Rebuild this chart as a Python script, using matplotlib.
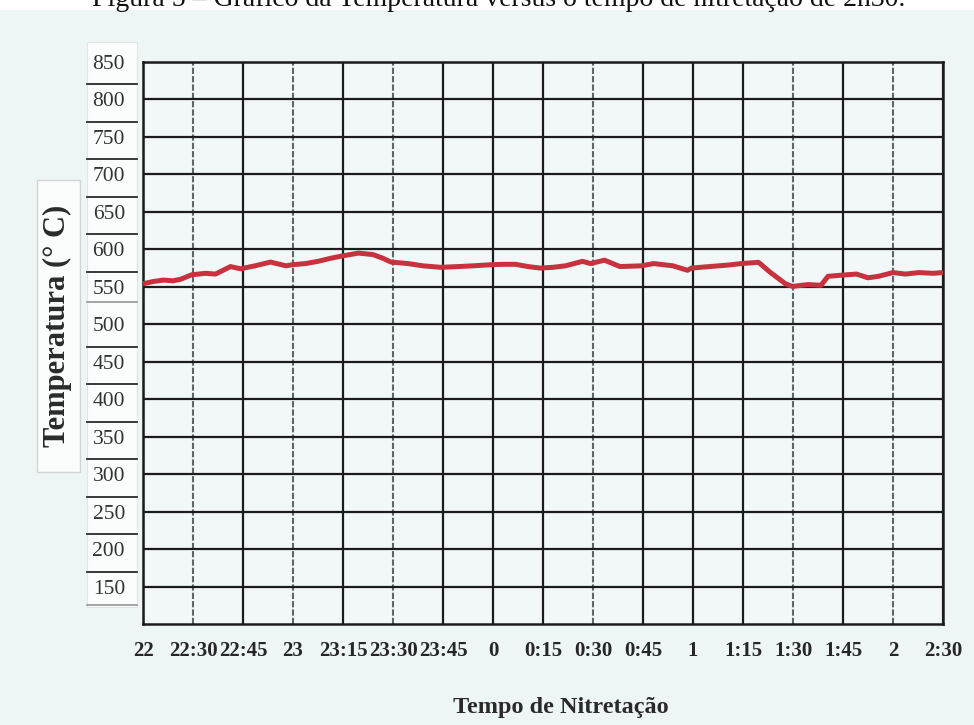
import matplotlib
matplotlib.use("Agg")
import matplotlib.pyplot as plt
import matplotlib.transforms as mtransforms
from matplotlib.patches import Rectangle

# x axis categories (hand drawn, one grid column per label)
time_labels = ["22", "22:30", "22:45", "23", "23:15", "23:30", "23:45", "0",
               "0:15", "0:30", "0:45", "1", "1:15", "1:30", "1:45", "2", "2:30"]
temp_ticks = [150, 200, 250, 300, 350, 400, 450, 500, 550, 600, 650, 700, 750, 800, 850]

# red trace, position along the time grid and temperature (C)
trace_pos = [0.0, 0.2, 0.41, 0.6, 0.75, 0.97, 1.25, 1.45, 1.75, 1.95, 2.24, 2.55,
             2.86, 2.99, 3.25, 3.5, 3.75, 3.97, 4.31, 4.6, 4.8, 4.96, 5.3, 5.6,
             5.95, 6.3, 6.6, 6.97, 7.2, 7.45, 7.7, 7.94, 8.2, 8.45, 8.79, 8.95,
             9.23, 9.54, 9.97, 10.21, 10.6, 10.89, 10.97, 11.33, 11.7, 11.97,
             12.31, 12.55, 12.85, 12.99, 13.3, 13.56, 13.7, 13.97, 14.27, 14.5,
             14.71, 15.0, 15.25, 15.52, 15.8, 16.0]
trace_temp = [554, 557, 559, 558, 560, 566, 568, 567, 577, 574, 578, 583,
              578, 579.5, 581, 584, 588, 591, 595, 593, 588, 583, 581, 578,
              576, 577, 578, 579.5, 580, 580, 577, 575, 576, 578, 584, 581,
              585.5, 577, 578, 581, 578, 572, 575, 577, 579, 581,
              582.7, 569, 554, 550.5, 553, 552, 564, 565.5, 567, 562,
              564, 569, 567, 569, 568, 569]

W, H = 974, 725
fig = plt.figure(figsize=(W / 100, H / 100), dpi=100, facecolor="#eef6f5")

serif = ["Liberation Serif", "DejaVu Serif"]

# white page strip with the cut-off caption
fig.patches.append(Rectangle((0, 1 - 9.5 / H), 1, 9.5 / H, transform=fig.transFigure,
                             facecolor="white", edgecolor="none", zorder=-2))
fig.text(499 / W, 1 - 6.5 / H,
         "Figura 5 – Gráfico da Temperatura versus o tempo de nitretação de 2h30.",
         ha="center", va="baseline", fontsize=20, family=serif, color="#111111")

# white boxes for the y label and the value column
fig.patches.append(Rectangle((37 / W, 1 - 472 / H), 43 / W, 292 / H,
                             transform=fig.transFigure, facecolor="#fbfcfc",
                             edgecolor="#d0d4d4", lw=1.0, zorder=-2))
fig.patches.append(Rectangle((87 / W, 1 - 607 / H), 50 / W, 565 / H,
                             transform=fig.transFigure, facecolor="#fbfcfc",
                             edgecolor="#e2e6e6", lw=0.8, zorder=-2))

ax = fig.add_axes([143 / W, 1 - 624 / H, 800 / W, 562 / H])
ax.set_zorder(1)
ax.set_facecolor("#f1f8f7")
ax.set_xlim(0, len(time_labels) - 1)
ax.set_ylim(100, 850)

# grid: some columns were drawn lighter
for i in range(len(time_labels)):
    if i in (1, 3, 5, 9, 13, 15):
        ax.axvline(i, color="#5e6666", lw=1.5, ls=(0, (3, 1)), zorder=1)
    else:
        ax.axvline(i, color="#1c1c1c", lw=1.6, zorder=1)
for t in temp_ticks:
    ax.axhline(t, color="#1c1c1c", lw=1.6, zorder=1)

ax.plot(trace_pos, trace_temp, color="#c8323e", lw=3.6, solid_capstyle="butt", zorder=3)

for s in ax.spines.values():
    s.set_color("#1c1c1c")
    s.set_linewidth(1.8)

ax.set_xticks(range(len(time_labels)))
ax.set_xticklabels(time_labels, fontsize=15, fontweight="bold", family=serif,
                   color="#262626")
ax.set_yticks(temp_ticks)
ax.set_yticklabels([str(t) for t in temp_ticks], fontsize=15.5, family=serif,
                   color="#333333")
ax.tick_params(axis="x", length=0, pad=12)
ax.tick_params(axis="y", length=0, pad=13)

# separator lines of the value column
trans = mtransforms.blended_transform_factory(ax.transAxes, ax.transData)
seps = [t + 20 for t in temp_ticks if t not in (500, 850)]
for y in seps:
    ax.plot([-0.07, -0.008], [y, y], color="#2a2a2a", lw=1.3, transform=trans,
            clip_on=False, zorder=2)
for y in (530, 125):
    ax.plot([-0.07, -0.008], [y, y], color="#9a9f9f", lw=1.3, transform=trans,
            clip_on=False, zorder=2)

fig.text(57 / W, 1 - 326 / H, "Temperatura (° C)", rotation=90, ha="center",
         va="center", fontsize=22, fontweight="bold", family=serif, color="#2a2a2a")
fig.text(561 / W, 1 - 708 / H, "Tempo de Nitretação", ha="center", va="center",
         fontsize=17.5, fontweight="bold", family=serif, color="#2a2a2a")

fig.savefig("out.png", dpi=100, facecolor=fig.get_facecolor())
